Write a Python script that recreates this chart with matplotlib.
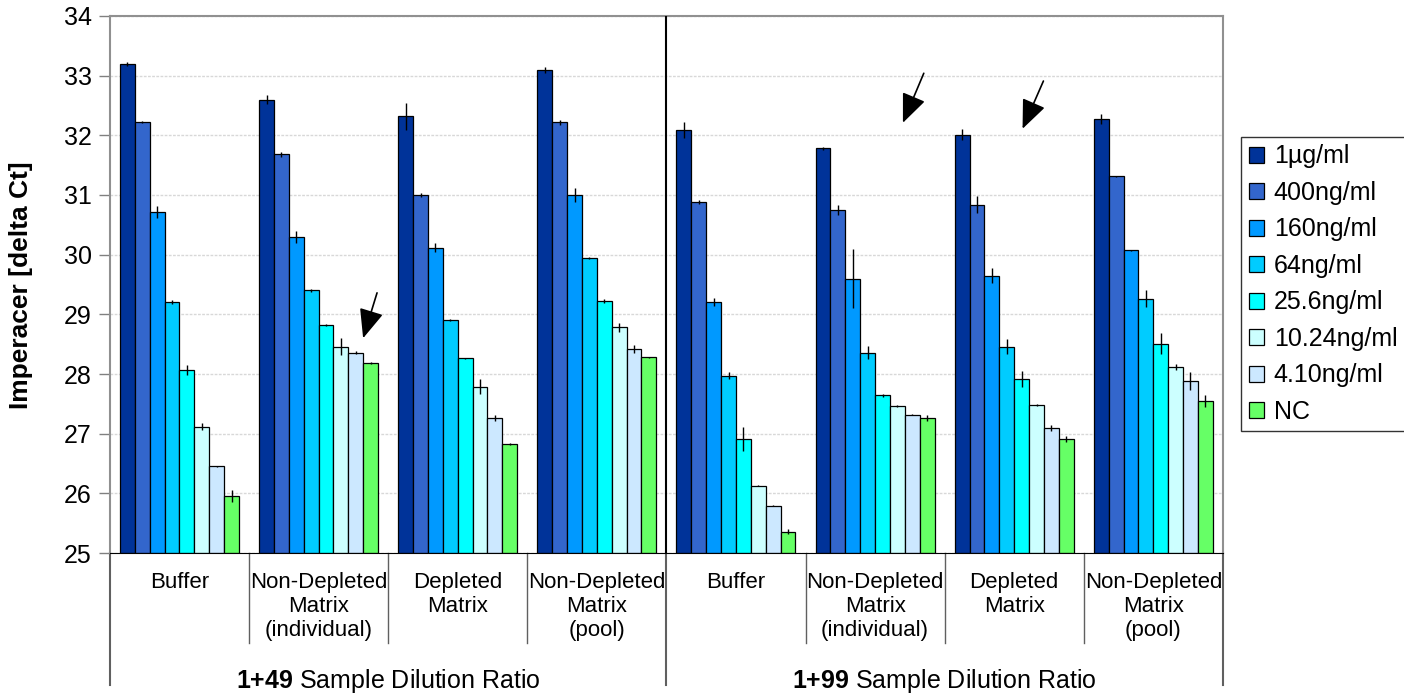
import matplotlib.pyplot as plt
import numpy as np

plt.rcParams['font.family'] = ['Liberation Sans', 'DejaVu Sans']
plt.rcParams['mathtext.fontset'] = 'custom'
plt.rcParams['mathtext.rm'] = 'Liberation Sans'
plt.rcParams['mathtext.bf'] = 'Liberation Sans:bold'

# 数据
groups = ['Buffer', 'Non-Depleted\nMatrix\n(individual)', 'Depleted\nMatrix',
          'Non-Depleted\nMatrix\n(pool)'] * 2
ratios = [r'$\mathbf{1{+}49}$ Sample Dilution Ratio', r'$\mathbf{1{+}99}$ Sample Dilution Ratio']
series = ['1µg/ml', '400ng/ml', '160ng/ml', '64ng/ml', '25.6ng/ml', '10.24ng/ml', '4.10ng/ml', 'NC']
colors = ['#003399', '#3366CC', '#0099FF', '#00CCFF', '#00FFFF', '#CCFFFF', '#CCE8FF', '#66FF66']

# 每组 8 个浓度的值 (delta Ct)
v_buf_49 = [33.20, 32.22, 30.71, 29.21, 28.07, 27.12, 26.45, 25.95]
v_ndi_49 = [32.60, 31.68, 30.30, 29.40, 28.82, 28.46, 28.36, 28.18]
v_dep_49 = [32.32, 31.00, 30.12, 28.90, 28.26, 27.79, 27.27, 26.83]
v_ndp_49 = [33.10, 32.22, 31.00, 29.94, 29.22, 28.78, 28.42, 28.28]
v_buf_99 = [32.09, 30.88, 29.21, 27.97, 26.91, 26.13, 25.79, 25.36]
v_ndi_99 = [31.78, 30.75, 29.60, 28.36, 27.64, 27.46, 27.32, 27.27]
v_dep_99 = [32.01, 30.84, 29.65, 28.46, 27.92, 27.48, 27.09, 26.91]
v_ndp_99 = [32.27, 31.31, 30.07, 29.26, 28.51, 28.12, 27.89, 27.55]

e_buf_49 = [0.03, 0.02, 0.10, 0.03, 0.08, 0.06, 0.01, 0.10]
e_ndi_49 = [0.08, 0.04, 0.10, 0.03, 0.02, 0.14, 0.02, 0.02]
e_dep_49 = [0.23, 0.04, 0.07, 0.02, 0.01, 0.13, 0.05, 0.02]
e_ndp_49 = [0.05, 0.04, 0.12, 0.02, 0.03, 0.08, 0.06, 0.01]
e_buf_99 = [0.13, 0.03, 0.07, 0.06, 0.20, 0.01, 0.01, 0.04]
e_ndi_99 = [0.03, 0.09, 0.50, 0.11, 0.02, 0.02, 0.01, 0.05]
e_dep_99 = [0.09, 0.15, 0.13, 0.13, 0.13, 0.01, 0.05, 0.05]
e_ndp_99 = [0.08, 0.01, 0.01, 0.14, 0.18, 0.05, 0.15, 0.10]

values = np.array([v_buf_49, v_ndi_49, v_dep_49, v_ndp_49,
                   v_buf_99, v_ndi_99, v_dep_99, v_ndp_99])
errors = np.array([e_buf_49, e_ndi_49, e_dep_49, e_ndp_49,
                   e_buf_99, e_ndi_99, e_dep_99, e_ndp_99])

ymin = 25
fig = plt.figure(figsize=(14.04, 6.95), dpi=100)
ax = fig.add_axes([0.0783, 0.2043, 0.7927, 0.7727])

n = len(groups)
x = np.arange(n)
w = 0.855 / len(series)
for j, name in enumerate(series):
    xs = x - 0.4275 + (j + 0.5) * w
    ax.bar(xs, values[:, j] - ymin, w, bottom=ymin, color=colors[j],
           edgecolor='black', linewidth=0.9, label=name, zorder=2)
    ax.errorbar(xs, values[:, j], yerr=errors[:, j], fmt='none',
                ecolor='black', elinewidth=1, capsize=0, zorder=3)

ax.set_xlim(-0.5, n - 0.5)
ax.set_ylim(25, 34)
ax.set_yticks(range(25, 35))
ax.tick_params(axis='y', labelsize=18, length=8, width=1, color='#808080', pad=5)
ax.set_xticks([])
ax.yaxis.grid(True, color='#d8d8d8', linestyle=(0, (2, 1)), linewidth=1)
ax.set_axisbelow(True)
for s in ['left', 'top', 'right']:
    ax.spines[s].set_color('#909090')
    ax.spines[s].set_linewidth(1.5)
ax.spines['bottom'].set_color('black')

# 中间分隔线
ax.axvline(3.5, color='black', lw=1.5, zorder=4)

# 分类轴标签 (两级)
tr = ax.get_xaxis_transform()
for b in [0.5, 1.5, 2.5, 4.5, 5.5, 6.5]:
    ax.plot([b, b], [0, -0.168], transform=tr, color='#606060', lw=1, clip_on=False)
for b in [-0.5, 3.5, 7.5]:
    ax.plot([b, b], [0, -0.246], transform=tr, color='#606060', lw=1.5, clip_on=False)
for i, g in enumerate(groups):
    ax.text(i, -0.035, g, transform=tr, ha='center', va='top', fontsize=16,
            linespacing=1.2)
for k, r in enumerate(ratios):
    ax.text(1.5 + 4 * k, -0.238, r, transform=tr, ha='center', va='center',
            fontsize=18)

fig.text(0.015, 0.59, 'Imperacer [delta Ct]', rotation=90, ha='center', va='center',
         fontsize=19, fontweight='bold')

# 箭头
arrows = [((1.42, 29.36), (1.32, 28.60)),
          ((5.35, 33.04), (5.20, 32.21)),
          ((6.21, 32.91), (6.06, 32.11))]
for tail, tip in arrows:
    ax.annotate('', xy=tip, xytext=tail,
                arrowprops=dict(arrowstyle='-|>,head_length=1.0,head_width=0.42',
                                mutation_scale=18, color='black', lw=1.2,
                                shrinkA=0, shrinkB=0),
                zorder=5)

leg = fig.legend(loc='upper left', bbox_to_anchor=(0.884, 0.803), fontsize=18,
                 frameon=True, fancybox=False, edgecolor='black', borderpad=0.3,
                 handlelength=0.6, handleheight=0.6, handletextpad=0.4,
                 labelspacing=0.5, borderaxespad=0)
leg.get_frame().set_linewidth(1)

plt.savefig('out.png', dpi=100)
